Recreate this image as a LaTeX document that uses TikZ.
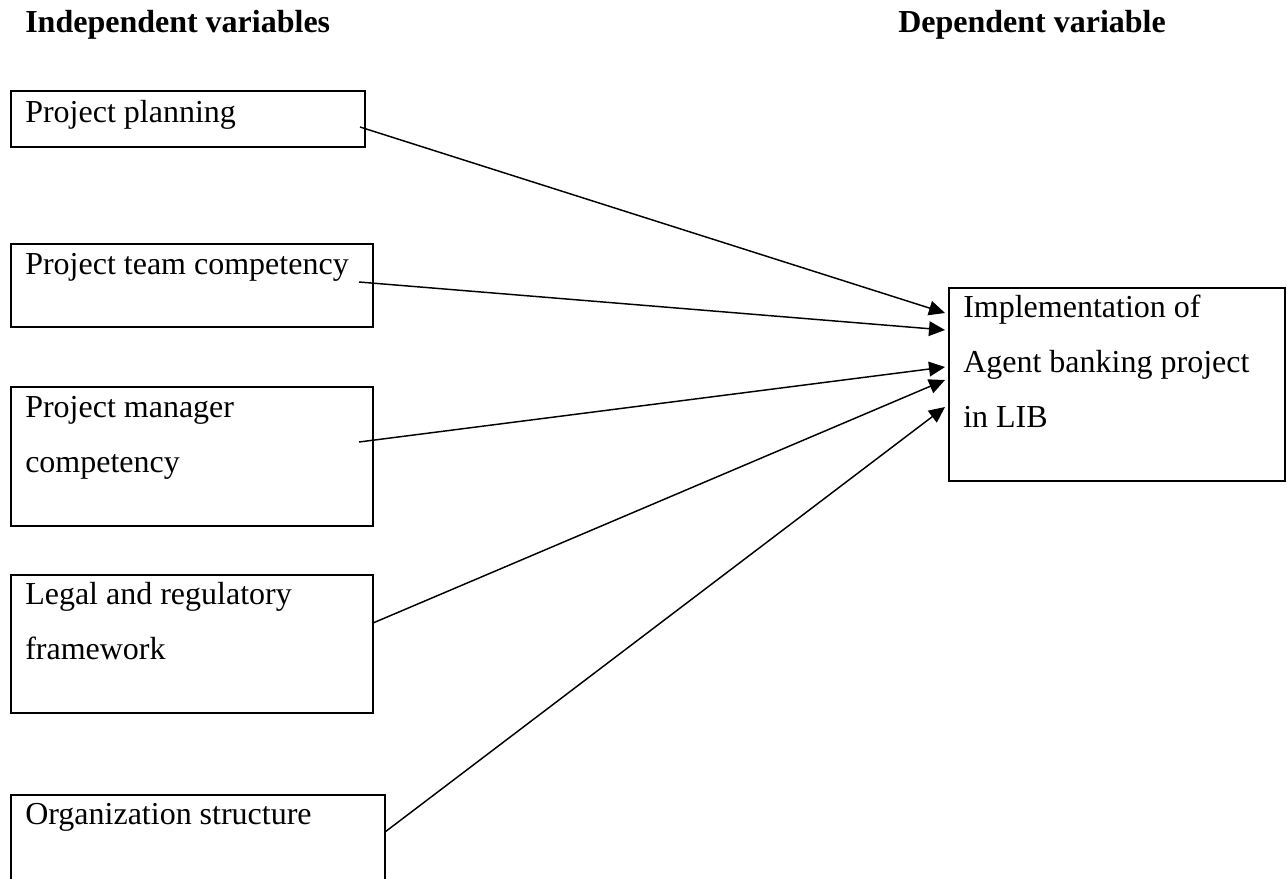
\documentclass[tikz,border=0pt]{standalone}
\usepackage{fontspec}
\setmainfont{Liberation Serif}
\usetikzlibrary{arrows.meta,fit}
\begin{document}
\begin{tikzpicture}[x=0.75pt,y=-0.75pt,
  box/.style={draw, line width=1.6pt, inner sep=0pt, rectangle},
  lbl/.style={anchor=base west, inner sep=0pt, font=\fontsize{24}{29}\selectfont},
  hdr/.style={anchor=base west, inner sep=0pt, font=\fontsize{24}{29}\selectfont\bfseries},
  arr/.style={line width=1.1pt, -{Triangle[length=12pt,width=11pt]}}]
\useasboundingbox (0,0) rectangle (1287,878);
\clip (0,0) rectangle (1287,878);
% headers
\node[hdr] (hi) at (25,32) {Independent variables};
\node[hdr] (hd) at (898,32) {Dependent variable};
% left boxes
\node[box, fit={(11,91) (365,147)}] (b1) {};
\node[lbl] (t1) at (25,122) {Project planning};
\node[box, fit={(11,244) (373,327)}] (b2) {};
\node[lbl] (t2) at (25,274) {Project team competency};
\node[box, fit={(11,387) (373,526)}] (b3) {};
\node[lbl] (t3a) at (25,417) {Project manager};
\node[lbl] (t3b) at (25,472) {competency};
\node[box, fit={(11,575) (373,713)}] (b4) {};
\node[lbl] (t4a) at (25,604) {Legal and regulatory};
\node[lbl] (t4b) at (25,659) {framework};
\node[box, fit={(11,795) (385,900)}] (b5) {};
\node[lbl] (t5) at (25,824) {Organization structure};
% right box
\node[box, fit={(949,288) (1285,481)}] (r) {};
\node[lbl] (ra) at (963,317) {Implementation of};
\node[lbl] (rb) at (963,372) {Agent banking project};
\node[lbl] (rc) at (963,427) {in LIB};
% connector ends
\coordinate (s1) at (360,127);
\coordinate (s2) at (359,282);
\coordinate (s3) at (359,442);
\coordinate (s4) at (373,623);
\coordinate (s5) at (385,832);
\coordinate (e1) at (945,313);
\coordinate (e2) at (945,330);
\coordinate (e3) at (945,367);
\coordinate (e4) at (945,380);
\coordinate (e5) at (945,407);
\draw[arr] (s1) -- (e1);
\draw[arr] (s2) -- (e2);
\draw[arr] (s3) -- (e3);
\draw[arr] (s4) -- (e4);
\draw[arr] (s5) -- (e5);
\end{tikzpicture}
\end{document}
